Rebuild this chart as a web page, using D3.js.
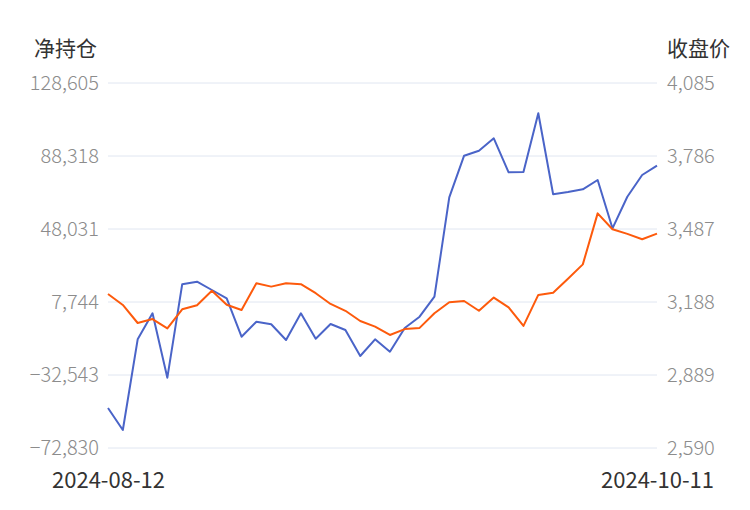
<!DOCTYPE html>
<html>
<head>
<meta charset="utf-8">
<script src="https://cdn.jsdelivr.net/npm/d3@7"></script>
<style>
  body { margin: 0; background: #fff; }
  svg text { font-family: "Noto Sans CJK SC", "Noto Sans", sans-serif; }
</style>
</head>
<body>
<svg width="750" height="510"></svg>
<script>
// trading days
const dates = [
    "2024-08-12","2024-08-13","2024-08-14","2024-08-15","2024-08-16",
    "2024-08-19","2024-08-20","2024-08-21","2024-08-22","2024-08-23",
    "2024-08-26","2024-08-27","2024-08-28","2024-08-29","2024-08-30",
    "2024-09-02","2024-09-03","2024-09-04","2024-09-05","2024-09-06",
    "2024-09-09","2024-09-10","2024-09-11","2024-09-12","2024-09-13",
    "2024-09-18","2024-09-19","2024-09-20","2024-09-23","2024-09-24",
    "2024-09-25","2024-09-26","2024-09-27","2024-09-30",
    "2024-10-08","2024-10-09","2024-10-10","2024-10-11"
];

// 净持仓 (left axis)
const netPosition = [
    -50756, -62897, -12842, 1507, -34034, 17512, 18947, 14366, 9785, -11407,
    -3129, -4564, -13228, 1507, -12511, -4398, -7709, -22058, -12842, -19685,
    -6606, -369, 10668, 65525, 88484, 91243, 98086, 79322, 79488, 111883,
    67181, 68450, 69940, 75073, 48417, 65856, 77832, 82965
];

// 收盘价 (right axis)
const closePrice = [
    3221, 3176, 3102, 3118, 3080, 3158, 3175, 3234, 3177, 3155,
    3265, 3251, 3265, 3261, 3224, 3180, 3152, 3110, 3087, 3053,
    3077, 3082, 3142, 3187, 3192, 3152, 3206, 3166, 3090, 3217,
    3226, 3283, 3342, 3551, 3486, 3467, 3445, 3468
];

const leftTicks = [-72830, -32543, 7744, 48031, 88318, 128605];
const rightTicks = [2590, 2889, 3188, 3487, 3786, 4085];

const plot = { left: 108, right: 657, top: 83, bottom: 448 };
const fmt = d3.format(",");

let svg = d3.select("svg");

let xscale = d3.scalePoint().domain(dates).range([plot.left, plot.right]);
let yLeft = d3.scaleLinear().domain([leftTicks[0], leftTicks[5]]).range([plot.bottom, plot.top]);
let yRight = d3.scaleLinear().domain([rightTicks[0], rightTicks[5]]).range([plot.bottom, plot.top]);

//Grid lines
svg.append("g")
    .selectAll("line")
    .data(leftTicks)
    .enter().append("line")
    .attr("x1", plot.left)
    .attr("x2", plot.right)
    .attr("y1", d => yLeft(d))
    .attr("y2", d => yLeft(d))
    .attr("stroke", "#e0e6f1")
    .attr("stroke-width", 1);

//Axes
let leftAxis = svg.append("g")
    .attr("transform", `translate(${plot.left}, 0)`)
    .call(d3.axisLeft(yLeft).tickValues(leftTicks).tickFormat(fmt).tickSize(0).tickPadding(9));

let rightAxis = svg.append("g")
    .attr("transform", `translate(${plot.right}, 0)`)
    .call(d3.axisRight(yRight).tickValues(rightTicks).tickFormat(fmt).tickSize(0).tickPadding(10));

let bottomAxis = svg.append("g")
    .attr("transform", `translate(0, ${plot.bottom})`)
    .call(d3.axisBottom(xscale).tickValues([dates[0], dates[dates.length - 1]]).tickSize(0).tickPadding(24));

[leftAxis, rightAxis, bottomAxis].forEach(a => a.select(".domain").remove());

leftAxis.selectAll("text").attr("font-size", 20).attr("fill", "#8c8c8c").attr("font-weight", 300)
    .attr("font-family", "'Noto Sans CJK SC', sans-serif");
rightAxis.selectAll("text").attr("font-size", 20).attr("fill", "#8c8c8c").attr("font-weight", 300)
    .attr("font-family", "'Noto Sans CJK SC', sans-serif");
bottomAxis.selectAll("text").attr("font-size", 22).attr("fill", "#333").attr("font-weight", 400)
    .attr("font-family", "'Noto Sans CJK SC', sans-serif");

//Axis titles
svg.append("text")
    .attr("x", 97)
    .attr("y", 56)
    .attr("text-anchor", "end")
    .attr("font-size", 21)
    .attr("fill", "#333")
    .text("净持仓");

svg.append("text")
    .attr("x", 667)
    .attr("y", 56)
    .attr("font-size", 21)
    .attr("fill", "#333")
    .text("收盘价");

//Lines
let leftLine = d3.line()
    .x((d, i) => xscale(dates[i]))
    .y(d => yLeft(d));

let rightLine = d3.line()
    .x((d, i) => xscale(dates[i]))
    .y(d => yRight(d));

svg.append("path")
    .datum(netPosition)
    .attr("d", leftLine)
    .attr("fill", "none")
    .attr("stroke", "#4a64c8")
    .attr("stroke-width", 2)
    .attr("stroke-linejoin", "round");

svg.append("path")
    .datum(closePrice)
    .attr("d", rightLine)
    .attr("fill", "none")
    .attr("stroke", "#fd5a0c")
    .attr("stroke-width", 2)
    .attr("stroke-linejoin", "round");
</script>
</body>
</html>
